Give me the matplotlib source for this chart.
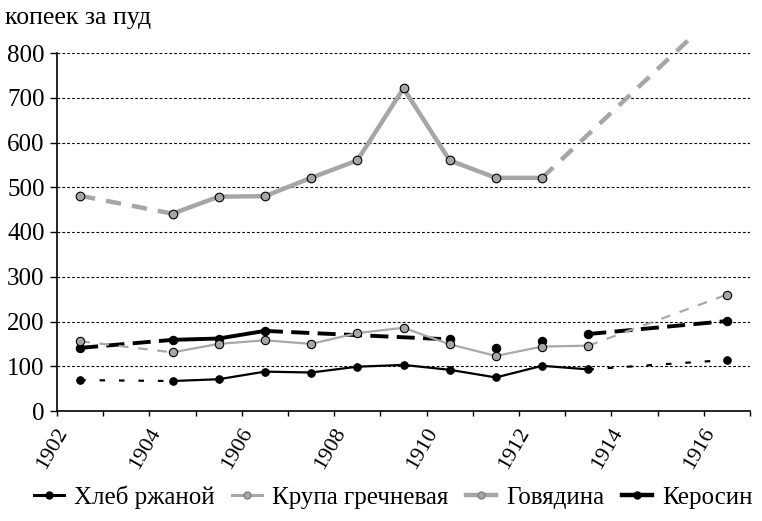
import matplotlib
matplotlib.use('Agg')
import matplotlib.pyplot as plt
import numpy as np
from matplotlib.lines import Line2D
from matplotlib.transforms import Bbox, TransformedBbox, ScaledTranslation

years = list(range(1902, 1917))
# None = no data for that year
bread = [69, None, 67, 71, 88, 86, 99, 103, 92, 75, 101, 93, None, None, 114]
buckwheat = [156, None, 131, 150, 158, 150, 174, 186, 149, 123, 144, 146, None, None, 260]
beef = [481, None, 441, 479, 480, 521, 560, 721, 560, 521, 521, None, None, None, 910]
kerosene = [141, None, 159, 162, 179, None, None, None, 160, 141, 156, 172, None, None, 201]
kerosene_loose = [1910, 1911, 1912, 1913]  # shown as points only, not joined
labels = ['Хлеб ржаной', 'Крупа гречневая', 'Говядина', 'Керосин']

plt.rcParams['font.family'] = ['Liberation Serif', 'DejaVu Serif']
plt.rcParams['lines.scale_dashes'] = False

fig = plt.figure(figsize=(7.62, 5.21), dpi=100)
ax = fig.add_axes([57 / 762, 1 - 411 / 521, 693 / 762, 358 / 521])
clip = TransformedBbox(Bbox.from_extents(-0.02, -0.02, 1.02, 1.05), ax.transAxes)


def draw(vals, color, lw, dashes, ms, mfc, z, loose=()):
    pts = [(i, v) for i, v in enumerate(vals) if v is not None]
    runs = [[pts[0]]]
    for prev, cur in zip(pts[:-1], pts[1:]):
        joined = cur[0] - prev[0] == 1 and not (years[prev[0]] in loose and years[cur[0]] in loose)
        if joined:
            runs[-1].append(cur)
        else:
            if cur[0] - prev[0] > 1:
                ln, = ax.plot([prev[0], cur[0]], [prev[1], cur[1]], color=color, lw=lw,
                              dashes=dashes, dash_capstyle='butt', zorder=z)
                ln.set_clip_box(clip)
            runs.append([cur])
    for r in runs:
        if len(r) > 1:
            ln, = ax.plot([p[0] for p in r], [p[1] for p in r], color=color, lw=lw,
                          solid_joinstyle='round', solid_capstyle='round', zorder=z)
            ln.set_clip_box(clip)
    mk, = ax.plot([p[0] for p in pts], [p[1] for p in pts], 'o', ms=ms, mfc=mfc,
                  mec='black', mew=0.8, zorder=z + 0.5)
    mk.set_clip_box(clip)


draw(beef, '#a6a6a6', 3.2, (11, 8), 6.2, '#a6a6a6', 2)
draw(kerosene, 'black', 2.8, (13, 6), 6.0, 'black', 3, loose=kerosene_loose)
draw(bread, 'black', 1.6, (4, 10), 5.4, 'black', 4)
draw(buckwheat, '#a8a8a8', 1.6, (7, 7), 6.0, '#a6a6a6', 5)

ax.set_xlim(-0.5, 14.5)
ax.set_ylim(0, 800)
ax.set_yticks(range(0, 801, 100))
ax.grid(axis='y', color='black', lw=0.8, linestyle=(0, (2, 1.5)))
ax.set_axisbelow(True)

ax.set_xticks(np.arange(-0.5, 15, 1))
ax.set_xticklabels([])
ax.tick_params(axis='x', which='major', length=3.5, width=1, direction='out')
ax.set_xticks(range(0, 15, 2), [str(y) for y in years[::2]], minor=True)
ax.tick_params(axis='x', which='minor', length=0, pad=10, labelsize=16)
shift = ScaledTranslation(-8 / 100, 0, fig.dpi_scale_trans)
for t in ax.get_xticklabels(minor=True):
    t.set_rotation(60)
    t.set_ha('right')
    t.set_transform(t.get_transform() + shift)

ax.tick_params(axis='y', length=5, width=1, pad=4, labelsize=18)
for s in ['top', 'right']:
    ax.spines[s].set_visible(False)
for s in ['left', 'bottom']:
    ax.spines[s].set_linewidth(1.2)

fig.text(0.007, 1 - 24 / 521, 'копеек за пуд', fontsize=18.5, va='baseline', ha='left')

handles = [
    Line2D([], [], color='black', lw=2.2, marker='o', ms=5, mfc='black', mec='black'),
    Line2D([], [], color='#a6a6a6', lw=2.2, marker='o', ms=5, mfc='#a6a6a6', mec='#808080'),
    Line2D([], [], color='#a6a6a6', lw=3.2, marker='o', ms=5, mfc='#a6a6a6', mec='#808080'),
    Line2D([], [], color='black', lw=3.2, marker='o', ms=5, mfc='black', mec='black'),
]
fig.legend(handles, labels, loc='center', bbox_to_anchor=(0.516, 1 - 497 / 521), ncol=4,
           frameon=False, fontsize=18, handlelength=1.2, handletextpad=0.4,
           columnspacing=0.7, borderpad=0)

fig.savefig('out.png', dpi=100)
